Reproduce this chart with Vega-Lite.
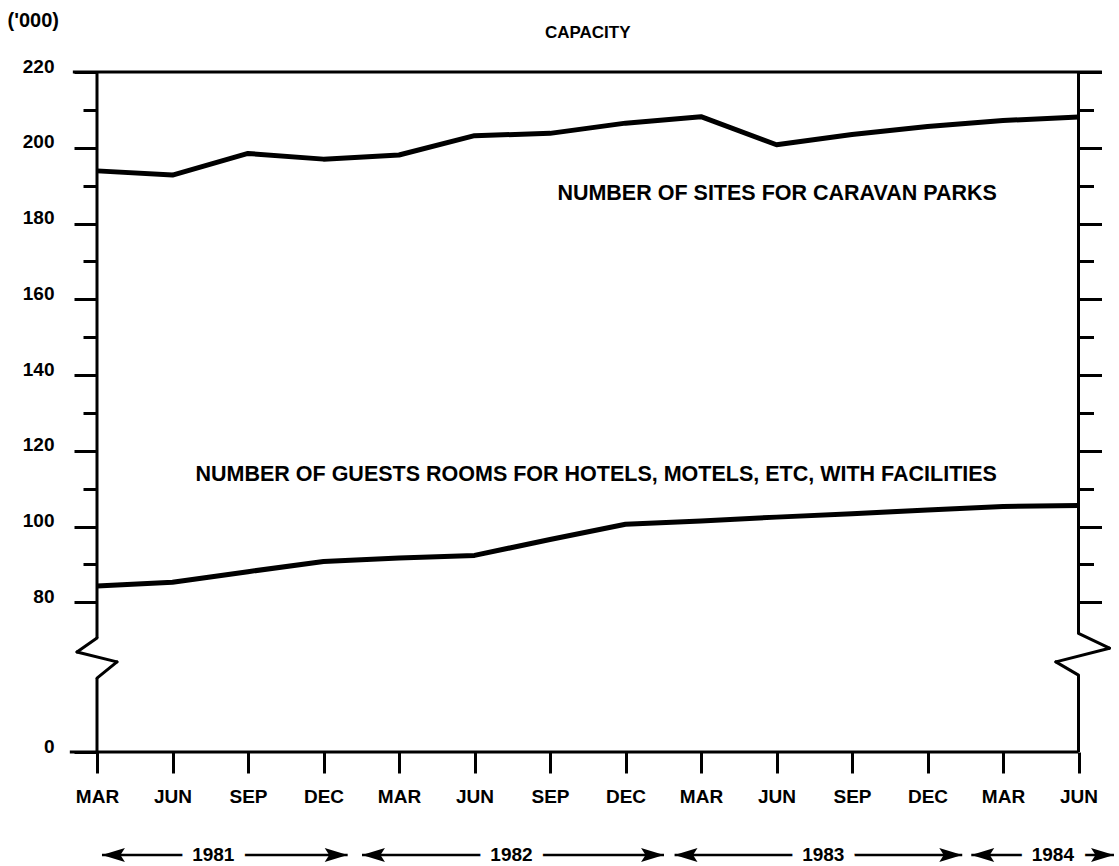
{
  "$schema": "https://vega.github.io/schema/vega-lite/v6.json",
  "autosize": {"type": "none"},
  "padding": {"left": 97, "top": 72, "right": 40, "bottom": 114},
  "width": 981.5,
  "height": 680,
  "background": "white",
  "data": {"values": [{}]},
  "config": {
    "font": "Liberation Sans",
    "view": {"stroke": null},
    "axis": {"labelFont": "Liberation Sans", "labelFontWeight": "bold", "labelColor": "black", "tickColor": "black", "grid": false, "domain": false}
  },
  "datasets": {
    "capacity": [
      {"q": 0, "period": "Mar 1981", "series": "Caravan park sites", "value": 193.9},
      {"q": 1, "period": "Jun 1981", "series": "Caravan park sites", "value": 192.8},
      {"q": 2, "period": "Sep 1981", "series": "Caravan park sites", "value": 198.5},
      {"q": 3, "period": "Dec 1981", "series": "Caravan park sites", "value": 197.0},
      {"q": 4, "period": "Mar 1982", "series": "Caravan park sites", "value": 198.1},
      {"q": 5, "period": "Jun 1982", "series": "Caravan park sites", "value": 203.2},
      {"q": 6, "period": "Sep 1982", "series": "Caravan park sites", "value": 203.8},
      {"q": 7, "period": "Dec 1982", "series": "Caravan park sites", "value": 206.5},
      {"q": 8, "period": "Mar 1983", "series": "Caravan park sites", "value": 208.2},
      {"q": 9, "period": "Jun 1983", "series": "Caravan park sites", "value": 200.8},
      {"q": 10, "period": "Sep 1983", "series": "Caravan park sites", "value": 203.5},
      {"q": 11, "period": "Dec 1983", "series": "Caravan park sites", "value": 205.6},
      {"q": 12, "period": "Mar 1984", "series": "Caravan park sites", "value": 207.2},
      {"q": 13, "period": "Jun 1984", "series": "Caravan park sites", "value": 208.1},
      {"q": 0, "period": "Mar 1981", "series": "Guest rooms", "value": 84.3},
      {"q": 1, "period": "Jun 1981", "series": "Guest rooms", "value": 85.3},
      {"q": 2, "period": "Sep 1981", "series": "Guest rooms", "value": 88.1},
      {"q": 3, "period": "Dec 1981", "series": "Guest rooms", "value": 90.8},
      {"q": 4, "period": "Mar 1982", "series": "Guest rooms", "value": 91.7},
      {"q": 5, "period": "Jun 1982", "series": "Guest rooms", "value": 92.4},
      {"q": 6, "period": "Sep 1982", "series": "Guest rooms", "value": 96.6},
      {"q": 7, "period": "Dec 1982", "series": "Guest rooms", "value": 100.6},
      {"q": 8, "period": "Mar 1983", "series": "Guest rooms", "value": 101.5},
      {"q": 9, "period": "Jun 1983", "series": "Guest rooms", "value": 102.5},
      {"q": 10, "period": "Sep 1983", "series": "Guest rooms", "value": 103.4},
      {"q": 11, "period": "Dec 1983", "series": "Guest rooms", "value": 104.4},
      {"q": 12, "period": "Mar 1984", "series": "Guest rooms", "value": 105.3},
      {"q": 13, "period": "Jun 1984", "series": "Guest rooms", "value": 105.6}
    ],
    "years": [
      {"year": "1981", "from": 0.066, "to": 3.32, "mid": 1.54},
      {"year": "1982", "from": 3.51, "to": 7.51, "mid": 5.49},
      {"year": "1983", "from": 7.65, "to": 11.46, "mid": 9.62},
      {"year": "1984", "from": 11.58, "to": 13.47, "mid": 12.66}
    ]
  },
  "layer": [
    {
      "data": {"name": "capacity"},
      "mark": {"type": "line", "color": "black", "strokeWidth": 5, "strokeJoin": "round"},
      "encoding": {
        "x": {"field": "q", "type": "quantitative", "scale": {"domain": [0, 13], "nice": false, "zero": false},
          "axis": {"orient": "bottom", "title": null, "values": [0,1,2,3,4,5,6,7,8,9,10,11,12,13],
            "labelExpr": "datum.value % 4 === 0 ? 'MAR' : (datum.value % 4 === 1 ? 'JUN' : (datum.value % 4 === 2 ? 'SEP' : 'DEC'))",
            "labelFontSize": 19, "labelPadding": 14,
            "labelDx": 3, "labelFlush": false, "labelOverlap": false, "tickSize": 21, "tickWidth": 3}},
        "y": {"field": "value", "type": "quantitative", "scale": {"domain": [40.5, 220], "nice": false, "zero": false},
          "axis": {"orient": "left", "title": "('000)", "titleAngle": 0, "titleAlign": "left", "titleBaseline": "alphabetic",
            "titleX": -90, "titleY": -46, "titleFontSize": 20, "titleFontWeight": "bold", "titleFont": "Liberation Sans", "titleColor": "black",
            "values": [40.5, 80, 90, 100, 110, 120, 130, 140, 150, 160, 170, 180, 190, 200, 210, 220],
            "labelExpr": "datum.value < 50 ? '0' : (datum.value % 20 === 0 ? datum.label : '')",
            "labelFontSize": 19, "labelPadding": 20, "labelBaseline": "alphabetic", "labelOverlap": false, "labelFlush": false,
            "tickWidth": 3,
            "tickSize": {"condition": {"test": "datum.value % 20 === 0 || datum.value < 50", "value": 23}, "value": 14}}},
        "detail": {"field": "series", "type": "nominal"}
      }
    },
    {
      "mark": {"type": "rule", "color": "black", "strokeWidth": 3},
      "encoding": {
        "x": {"datum": 13, "type": "quantitative", "axis": null},
        "y": {"datum": 220, "type": "quantitative",
          "axis": {"orient": "right", "title": null, "labels": false,
            "values": [80, 90, 100, 110, 120, 130, 140, 150, 160, 170, 180, 190, 200, 210, 220],
            "tickWidth": 3,
            "tickSize": {"condition": {"test": "datum.value % 20 === 0", "value": 23}, "value": 15}}},
        "y2": {"datum": 71.8}
      }
    },
    {"mark": {"type": "rule", "color": "black", "strokeWidth": 3, "strokeCap": "round"},
     "encoding": {"x": {"datum": 13, "type": "quantitative", "axis": null}, "x2": {"datum": 13.41},
                  "y": {"datum": 71.8, "type": "quantitative", "axis": null}, "y2": {"datum": 67.9}}},
    {"mark": {"type": "rule", "color": "black", "strokeWidth": 3, "strokeCap": "round"},
     "encoding": {"x": {"datum": 13.41, "type": "quantitative", "axis": null}, "x2": {"datum": 12.7},
                  "y": {"datum": 67.9, "type": "quantitative", "axis": null}, "y2": {"datum": 64.3}}},
    {"mark": {"type": "rule", "color": "black", "strokeWidth": 3, "strokeCap": "round"},
     "encoding": {"x": {"datum": 12.7, "type": "quantitative", "axis": null}, "x2": {"datum": 13},
                  "y": {"datum": 64.3, "type": "quantitative", "axis": null}, "y2": {"datum": 60.8}}},
    {"mark": {"type": "rule", "color": "black", "strokeWidth": 3},
     "encoding": {"x": {"datum": 13, "type": "quantitative", "axis": null},
                  "y": {"datum": 60.8, "type": "quantitative", "axis": null}, "y2": {"datum": 40.5}}},
    {"mark": {"type": "rule", "color": "black", "strokeWidth": 3},
     "encoding": {"x": {"datum": 0, "type": "quantitative", "axis": null},
                  "y": {"datum": 220, "type": "quantitative", "axis": null}, "y2": {"datum": 70.6}}},
    {"mark": {"type": "rule", "color": "black", "strokeWidth": 3, "strokeCap": "round"},
     "encoding": {"x": {"datum": 0, "type": "quantitative", "axis": null}, "x2": {"datum": -0.265},
                  "y": {"datum": 70.6, "type": "quantitative", "axis": null}, "y2": {"datum": 66.9}}},
    {"mark": {"type": "rule", "color": "black", "strokeWidth": 3, "strokeCap": "round"},
     "encoding": {"x": {"datum": -0.265, "type": "quantitative", "axis": null}, "x2": {"datum": 0.265},
                  "y": {"datum": 66.9, "type": "quantitative", "axis": null}, "y2": {"datum": 64.3}}},
    {"mark": {"type": "rule", "color": "black", "strokeWidth": 3, "strokeCap": "round"},
     "encoding": {"x": {"datum": 0.265, "type": "quantitative", "axis": null}, "x2": {"datum": 0},
                  "y": {"datum": 64.3, "type": "quantitative", "axis": null}, "y2": {"datum": 60.0}}},
    {"mark": {"type": "rule", "color": "black", "strokeWidth": 3},
     "encoding": {"x": {"datum": 0, "type": "quantitative", "axis": null},
                  "y": {"datum": 60.0, "type": "quantitative", "axis": null}, "y2": {"datum": 40.5}}},
    {"mark": {"type": "rule", "color": "black", "strokeWidth": 3},
     "encoding": {"x": {"datum": -0.32, "type": "quantitative", "axis": null}, "x2": {"datum": 13.31},
                  "y": {"datum": 220, "type": "quantitative", "axis": null}}},
    {"mark": {"type": "rule", "color": "black", "strokeWidth": 3},
     "encoding": {"x": {"datum": -0.36, "type": "quantitative", "axis": null}, "x2": {"datum": 13},
                  "y": {"datum": 40.5, "type": "quantitative", "axis": null}}},
    {"mark": {"type": "text", "text": "CAPACITY", "align": "center", "baseline": "middle",
              "fontSize": 17, "fontWeight": "bold", "font": "Liberation Sans", "color": "black"},
     "encoding": {"x": {"datum": 6.5, "type": "quantitative", "axis": null},
                  "y": {"datum": 230.3, "type": "quantitative", "axis": null}}},
    {"mark": {"type": "text", "text": "NUMBER OF SITES FOR CARAVAN PARKS", "align": "right", "baseline": "middle",
              "fontSize": 21.5, "fontWeight": "bold", "font": "Liberation Sans", "color": "black"},
     "encoding": {"x": {"datum": 11.92, "type": "quantitative", "axis": null},
                  "y": {"datum": 187.8, "type": "quantitative", "axis": null}}},
    {"mark": {"type": "text", "text": "NUMBER OF GUESTS ROOMS FOR HOTELS, MOTELS, ETC, WITH FACILITIES", "align": "right", "baseline": "middle",
              "fontSize": 21.5, "fontWeight": "bold", "font": "Liberation Sans", "color": "black"},
     "encoding": {"x": {"datum": 11.92, "type": "quantitative", "axis": null},
                  "y": {"datum": 113.5, "type": "quantitative", "axis": null}}},
    {"data": {"name": "years"},
     "mark": {"type": "rule", "color": "black", "strokeWidth": 2.5},
     "encoding": {"x": {"field": "from", "type": "quantitative", "axis": null}, "x2": {"field": "to"},
                  "y": {"datum": 13.3, "type": "quantitative", "axis": null}}},
    {"data": {"name": "years"},
     "mark": {"type": "point", "filled": true, "color": "black", "opacity": 1, "size": 650,
              "shape": "M0,0 L1.8,-0.55 L1.45,0 L1.8,0.55 Z"},
     "encoding": {"x": {"field": "from", "type": "quantitative", "axis": null},
                  "y": {"datum": 13.3, "type": "quantitative", "axis": null}}},
    {"data": {"name": "years"},
     "mark": {"type": "point", "filled": true, "color": "black", "opacity": 1, "size": 650,
              "shape": "M0,0 L-1.8,-0.55 L-1.45,0 L-1.8,0.55 Z"},
     "encoding": {"x": {"field": "to", "type": "quantitative", "axis": null},
                  "y": {"datum": 13.3, "type": "quantitative", "axis": null}}},
    {"data": {"name": "years"},
     "mark": {"type": "text", "align": "center", "baseline": "middle", "fontSize": 19, "fontWeight": "bold",
              "font": "Liberation Sans", "color": "white", "stroke": "white", "strokeWidth": 22},
     "encoding": {"x": {"field": "mid", "type": "quantitative", "axis": null},
                  "y": {"datum": 13.3, "type": "quantitative", "axis": null},
                  "text": {"field": "year"}}},
    {"data": {"name": "years"},
     "mark": {"type": "text", "align": "center", "baseline": "middle", "fontSize": 19, "fontWeight": "bold",
              "font": "Liberation Sans", "color": "black"},
     "encoding": {"x": {"field": "mid", "type": "quantitative", "axis": null},
                  "y": {"datum": 13.3, "type": "quantitative", "axis": null},
                  "text": {"field": "year"}}}
  ],
  "resolve": {"axis": {"x": "independent", "y": "independent"}}
}
